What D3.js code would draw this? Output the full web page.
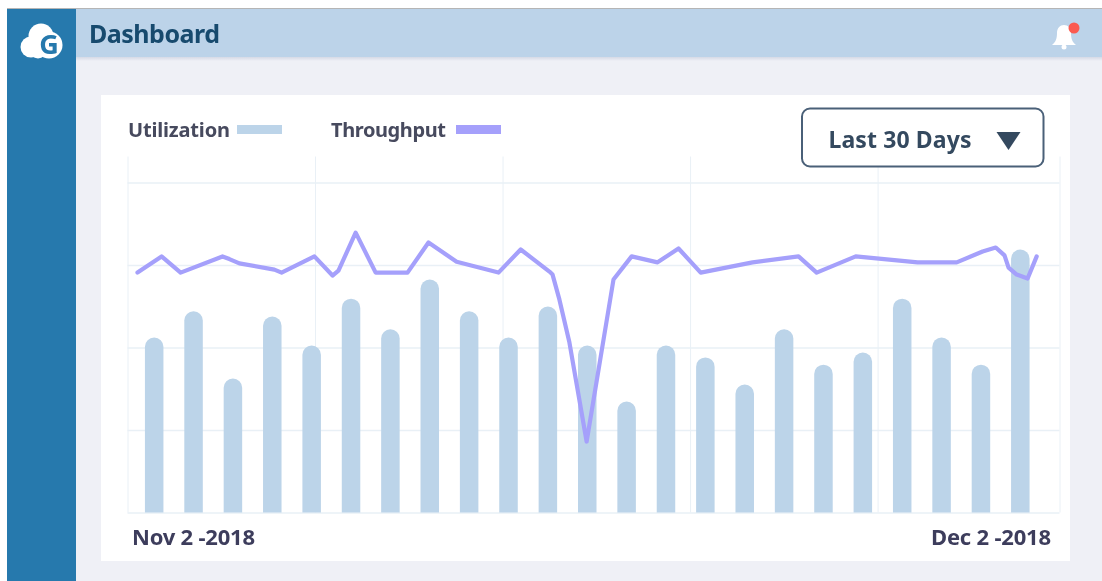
<!DOCTYPE html>
<html>
<head>
<meta charset="utf-8">
<script src="https://cdn.jsdelivr.net/npm/d3@7"></script>
<style>
  html, body { margin: 0; padding: 0; background: #fff; overflow: hidden; }
  svg { display: block; filter: blur(0.45px); }
  text { font-family: "Noto Sans", sans-serif; font-weight: 700; }
</style>
</head>
<body>
<script>
// values, percent of the grid height
const utilization = [53, 61, 40.6, 59.4, 50.6, 64.8, 55.5, 70.6, 61, 53, 62.4, 50.6,
  33.6, 50.6, 47, 38.8, 55.5, 44.8, 48.5, 64.8, 53, 44.8, 79.7];

const throughputDays = [0.32, 1.09, 1.7, 3.04, 3.26, 3.58, 4.7, 4.93, 5.98, 6.56, 6.75, 7.3, 7.94, 8.96,
  9.63, 10.53, 11.87, 12.58, 13.5, 13.6, 13.82, 14.14, 14.69, 15.55, 16.13, 16.96, 17.63, 18.34, 20,
  21.47, 22.05, 23.3, 25.28, 26.53, 27.36, 27.78, 28.06, 28.19, 28.45, 28.8, 29.09];
const throughput = [72.7, 77.6, 72.7, 77.6, 76.8, 75.5, 73.6, 72.7, 77.6, 71.8, 73.3, 84.8, 72.7, 72.7,
  81.8, 76, 72.7, 79.7, 73, 72.1, 64.5, 51.5, 21.5, 70.6, 77.6, 75.8, 80, 72.7, 75.8,
  77.6, 72.7, 77.6, 75.8, 75.8, 79.1, 80.3, 77.9, 74.2, 72.1, 70.9, 77.6];

const gridValues = [0, 25, 50, 75, 100];
const gridDays = [0, 6, 12, 18, 24, 29.82];
const dateLabels = ["Nov 2 -2018", "Dec 2 -2018"];

const w = 1102;
const h = 581;

const svg = d3.select("body")
    .append("svg")
    .attr("width", w)
    .attr("height", h);

const defs = svg.append("defs");
const shadow = defs.append("linearGradient")
    .attr("id", "headShadow")
    .attr("x1", 0).attr("x2", 0).attr("y1", 0).attr("y2", 1);
shadow.append("stop").attr("offset", 0).attr("stop-color", "#d5dae6");
shadow.append("stop").attr("offset", 1).attr("stop-color", "#eff0f6");

// page frame
svg.append("rect").attr("x", 7).attr("y", 9).attr("width", w - 7).attr("height", h - 9).attr("fill", "#eff0f6");
svg.append("rect").attr("x", 7).attr("y", 8).attr("width", w - 7).attr("height", 1).attr("fill", "#b5b5b5");
svg.append("rect").attr("x", 76).attr("y", 57).attr("width", w - 76).attr("height", 4).attr("fill", "url(#headShadow)");
svg.append("rect").attr("x", 76).attr("y", 9).attr("width", w - 76).attr("height", 48).attr("fill", "#bcd3e9");
svg.append("rect").attr("x", 7).attr("y", 9).attr("width", 69).attr("height", h - 9).attr("fill", "#2679ad");

// logo
const logo = svg.append("g").attr("fill", "#fff");
[[31, 47, 10.5], [41, 36, 12.5], [49, 45, 13.5], [38, 50, 8.5]].forEach((c) => {
    logo.append("circle").attr("cx", c[0]).attr("cy", c[1]).attr("r", c[2]);
});
svg.append("text")
    .attr("x", 49).attr("y", 54)
    .attr("text-anchor", "middle")
    .attr("font-size", 27)
    .attr("fill", "#2679ad")
    .text("G");

svg.append("text")
    .attr("x", 89).attr("y", 43)
    .attr("font-size", 25)
    .attr("textLength", 131)
    .attr("fill", "#174a6e")
    .text("Dashboard");

// bell
svg.append("path")
    .attr("d", "M1052,45 C1056,42 1057,38 1057,33 C1057,28 1060,25 1064,25 C1068,25 1071,28 1071,33 C1071,38 1072,42 1076,45 Z")
    .attr("fill", "#fff");
svg.append("circle").attr("cx", 1064).attr("cy", 47).attr("r", 2.5).attr("fill", "#fff");
svg.append("circle").attr("cx", 1074).attr("cy", 28).attr("r", 5.5).attr("fill", "#fb5a50");

// card
svg.append("rect").attr("x", 101).attr("y", 95).attr("width", 969).attr("height", 466).attr("fill", "#fff");

const x = d3.scaleLinear().domain([0, 29.82]).range([127.5, 1059.5]);
const y = d3.scaleLinear().domain([0, 100]).range([512.5, 182.5]);
const xBar = d3.scaleBand()
    .domain(d3.range(utilization.length))
    .range([134.5, 1040])
    .paddingInner(0.53)
    .paddingOuter(0.265);

const xGrid = svg.append("g")
    .attr("transform", "translate(0,512.5)")
    .call(d3.axisBottom(x).tickValues(gridDays).tickSize(-356).tickFormat(""));
const yGrid = svg.append("g")
    .attr("transform", "translate(127.5,0)")
    .call(d3.axisLeft(y).tickValues(gridValues).tickSize(-932).tickFormat(""));
[xGrid, yGrid].forEach((g) => {
    g.select(".domain").remove();
    g.selectAll("line").attr("stroke", "#e9f0f6").attr("stroke-width", 1.5);
});
xGrid.selectAll("line").attr("stroke-width", 1);

// bars, flat at the bottom and round at the top
svg.selectAll("path.bar")
    .data(utilization)
    .enter()
    .append("path")
    .attr("class", "bar")
    .attr("fill", "#bcd4e9")
    .attr("d", (d, i) => {
        const b = xBar.bandwidth();
        const r = b / 2;
        const p = d3.path();
        p.moveTo(xBar(i), y(0));
        p.lineTo(xBar(i), y(d) + r);
        p.arc(xBar(i) + r, y(d) + r, r, Math.PI, 0);
        p.lineTo(xBar(i) + b, y(0));
        p.closePath();
        return p.toString();
    });

const line = d3.line()
    .x((d, i) => x(throughputDays[i]))
    .y((d) => y(d));

svg.append("path")
    .datum(throughput)
    .attr("d", line)
    .attr("fill", "none")
    .attr("stroke", "#a5a0fb")
    .attr("stroke-width", 4.2)
    .attr("stroke-linejoin", "round")
    .attr("stroke-linecap", "round");

// legend
svg.append("text").attr("x", 128).attr("y", 137).attr("font-size", 20).attr("textLength", 102).attr("fill", "#474a5e").text("Utilization");
svg.append("rect").attr("x", 237).attr("y", 125).attr("width", 45).attr("height", 9).attr("fill", "#bcd4e9");
svg.append("text").attr("x", 331).attr("y", 137).attr("font-size", 20).attr("textLength", 115).attr("fill", "#474a5e").text("Throughput");
svg.append("rect").attr("x", 456).attr("y", 125).attr("width", 45).attr("height", 9).attr("fill", "#a5a0fb");

// dropdown
svg.append("rect")
    .attr("x", 802).attr("y", 108.5)
    .attr("width", 241.5).attr("height", 58)
    .attr("rx", 8)
    .attr("fill", "#fff")
    .attr("stroke", "#4a6078")
    .attr("stroke-width", 2);
svg.append("text").attr("x", 828.5).attr("y", 148).attr("font-size", 23).attr("textLength", 143).attr("fill", "#34495f").text("Last 30 Days");
svg.append("path").attr("d", "M996.5,132 L1020.5,132 L1008.5,150 Z").attr("fill", "#34495f");

// date labels
svg.append("text").attr("x", 132).attr("y", 545).attr("font-size", 22).attr("textLength", 123).attr("fill", "#3d3d5c").text(dateLabels[0]);
svg.append("text").attr("x", 931).attr("y", 545).attr("font-size", 22).attr("textLength", 120).attr("fill", "#3d3d5c").text(dateLabels[1]);
</script>
</body>
</html>
